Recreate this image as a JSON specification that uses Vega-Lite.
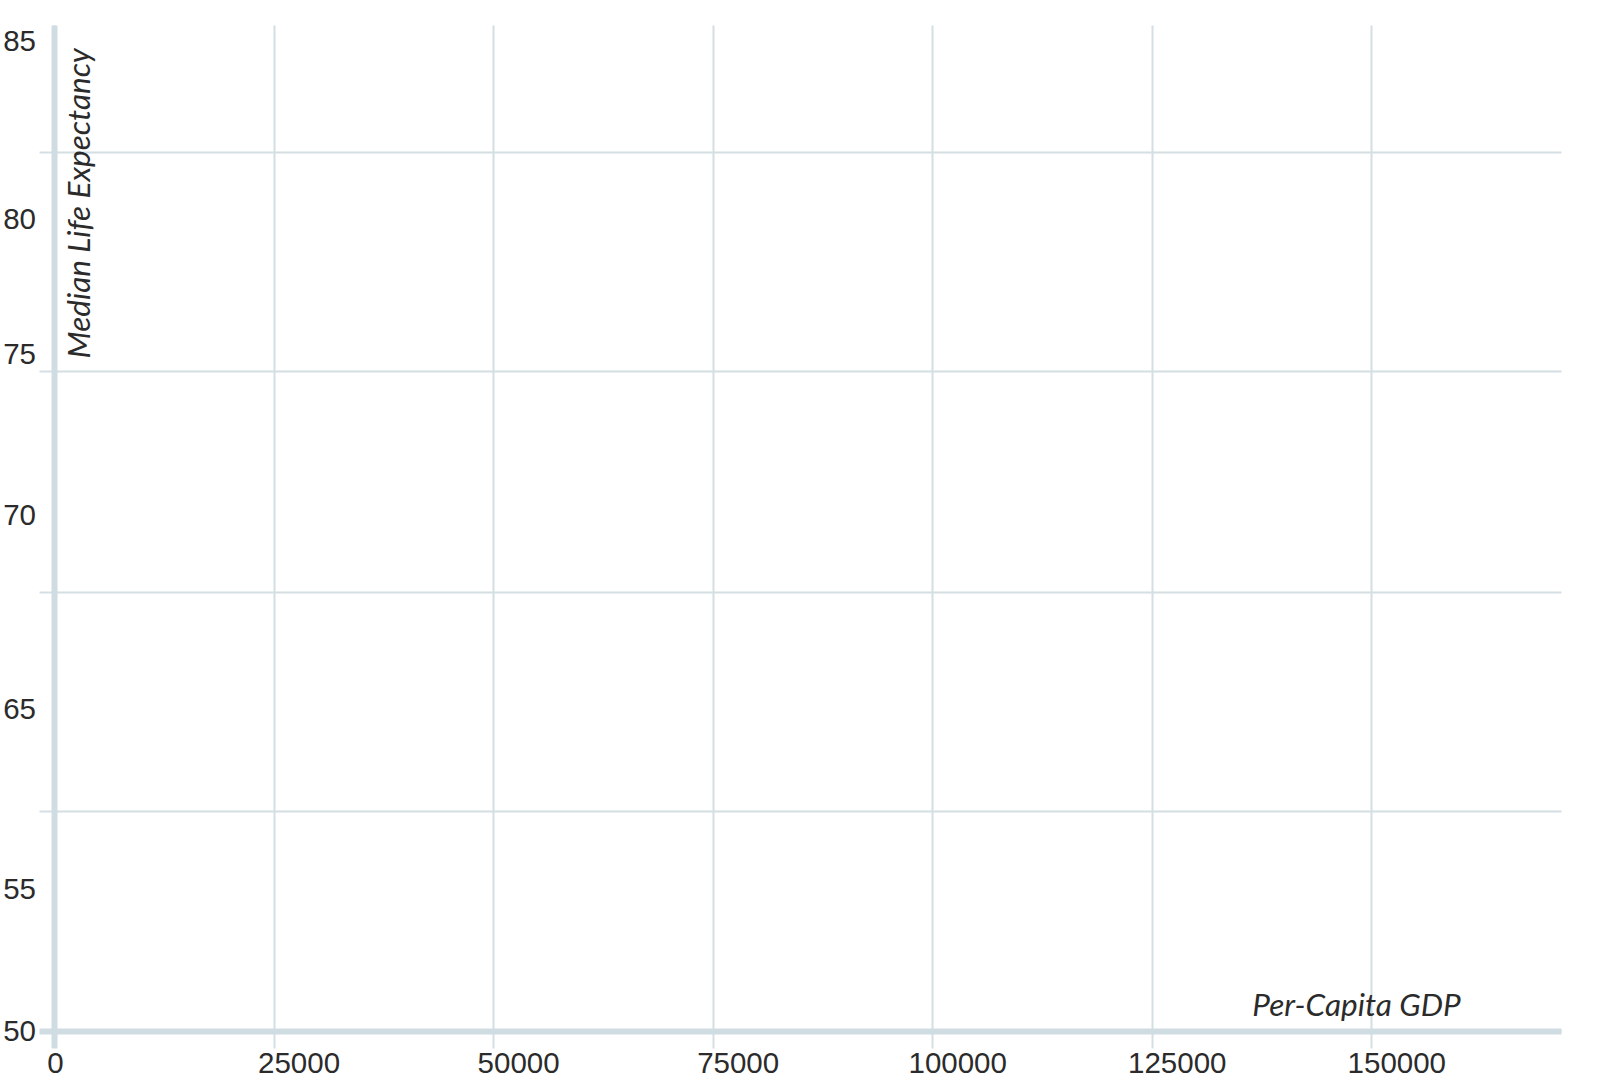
{
  "$schema": "https://vega.github.io/schema/vega-lite/v6.json",
  "width": 1507,
  "height": 1006,
  "autosize": {"type": "none"},
  "padding": {"left": 54, "top": 25, "right": 45, "bottom": 57},
  "background": "white",
  "config": {"view": {"stroke": null}},
  "data": {
    "values": [
      {"label": "85", "life": 84.4},
      {"label": "80", "life": 78.22},
      {"label": "75", "life": 73.52},
      {"label": "70", "life": 67.93},
      {"label": "65", "life": 61.17},
      {"label": "55", "life": 54.91},
      {"label": "50", "life": 49.98}
    ]
  },
  "layer": [
    {
      "mark": {"type": "text", "align": "right", "baseline": "middle", "dx": -18, "fontSize": 29.5, "font": "Liberation Sans", "color": "#2b2b2b"},
      "encoding": {
        "x": {
          "datum": 0,
          "type": "quantitative",
          "scale": {"domain": [0, 171600], "nice": false, "zero": false},
          "axis": {
            "values": [0, 25000, 50000, 75000, 100000, 125000, 150000],
            "format": "d",
            "grid": true,
            "gridColor": "#d4dfe4",
            "gridWidth": 2,
            "domainColor": "#cfdce2",
            "domainWidth": 6,
            "tickColor": {"condition": {"test": "datum.value === 0", "value": "#cfdce2"}, "value": "#d4dfe4"},
            "tickWidth": {"condition": {"test": "datum.value === 0", "value": 6}, "value": 2},
            "tickSize": 17,
            "labelFont": "Liberation Sans",
            "labelFontSize": 29.5,
            "labelColor": "#2b2b2b",
            "labelPadding": 1,
            "labelOffset": {"condition": {"test": "datum.value === 0", "value": 1}, "value": 25},
            "labelFlush": false,
            "labelOverlap": false,
            "title": "Per-Capita GDP",
            "titleFont": "Lato",
            "titleFontStyle": "italic",
            "titleFontWeight": "normal",
            "titleFontSize": 31.5,
            "titleColor": "#2b2b2b",
            "titleAlign": "center",
            "titleBaseline": "alphabetic",
            "titleX": 1302,
            "titleY": -16
          }
        },
        "y": {
          "field": "life",
          "type": "quantitative",
          "scale": {"domain": [50, 85], "nice": false, "zero": false},
          "axis": {
            "values": [50, 57.644, 65.288, 72.962, 80.58],
            "labels": false,
            "grid": true,
            "gridColor": "#d4dfe4",
            "gridWidth": 2,
            "domainColor": "#cfdce2",
            "domainWidth": 6,
            "tickColor": {"condition": {"test": "datum.value === 50", "value": "#cfdce2"}, "value": "#d4dfe4"},
            "tickWidth": {"condition": {"test": "datum.value === 50", "value": 6}, "value": 2},
            "tickSize": 15,
            "title": "Median Life Expectancy",
            "titleFont": "Lato",
            "titleFontStyle": "italic",
            "titleFontWeight": "normal",
            "titleFontSize": 31.5,
            "titleColor": "#2b2b2b",
            "titleAngle": -90,
            "titleAlign": "left",
            "titleBaseline": "alphabetic",
            "titleX": 35,
            "titleY": 333
          }
        },
        "text": {"field": "label", "type": "nominal"}
      }
    }
  ]
}
